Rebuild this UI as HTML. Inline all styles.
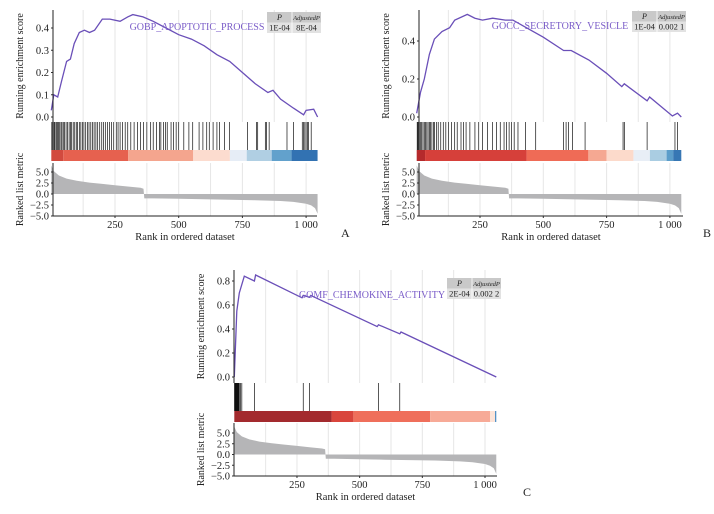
<!DOCTYPE html>
<html><head><meta charset="utf-8"><style>
body{margin:0;background:#fff;width:714px;height:509px;overflow:hidden}
svg{font-family:"Liberation Serif",serif}
</style></head><body>
<svg id="fig" width="714" height="509" viewBox="0 0 714 509" xmlns="http://www.w3.org/2000/svg"></svg>
<script>
// shared ranked list metric
const metricRanks=[0,10,30,60,100,150,200,250,300,350,362,365,400,500,600,700,800,900,950,1000,1020,1035,1045];
const metricValues=[6.5,5.2,4.2,3.5,3.0,2.6,2.3,2.0,1.7,1.4,1.2,-1.0,-1.0,-1.1,-1.2,-1.3,-1.4,-1.6,-1.8,-2.2,-2.6,-3.2,-4.5];
const metricTicks=[5.0,2.5,0.0,-2.5,-5.0];
const xTicks=[250,500,750,1000];
const xTickLabels=["250","500","750","1 000"];
// Panel A
const esRanksA=[0,10,25,40,60,75,90,110,130,150,170,200,230,270,300,320,360,400,450,500,550,600,650,700,750,800,850,870,900,950,990,1000,1030,1045];
const esValuesA=[0.03,0.1,0.09,0.16,0.25,0.26,0.33,0.38,0.39,0.38,0.39,0.44,0.44,0.43,0.45,0.46,0.45,0.43,0.40,0.37,0.35,0.32,0.28,0.25,0.2,0.15,0.11,0.12,0.08,0.04,0.01,0.03,0.035,0.0];
const hitsA=[2,5,8,12,15,20,24,28,33,38,42,47,52,58,63,70,75,80,86,92,98,103,110,116,122,128,135,142,148,155,162,168,175,182,190,198,205,212,220,228,236,245,255,262,270,280,290,300,312,325,338,350,362,375,390,400,413,425,430,440,448,455,470,480,490,500,520,540,555,580,595,610,620,635,650,660,680,700,770,805,810,840,845,855,925,950,985,990,995,1000,1005,1010,1020];
const segEndsA=[47,302,557,701,767,865,943,1045];
const segColorsA=["#d24a3e","#e6614f","#f4a58e","#fcdccf","#e6edf6","#b0cfe3","#62a1cc","#3272b2"];
const esTicksA=[0,0.1,0.2,0.3,0.4];
// Panel B
const esRanksB=[0,15,30,50,70,100,130,150,200,230,260,300,350,380,420,500,580,610,680,750,810,820,910,920,1010,1030,1045];
const esValuesB=[0.02,0.13,0.2,0.33,0.41,0.45,0.47,0.51,0.54,0.52,0.51,0.52,0.51,0.51,0.48,0.42,0.35,0.35,0.30,0.23,0.16,0.175,0.085,0.105,0.005,0.02,0];
const hitsB=[2,5,8,12,16,20,25,30,35,40,45,50,55,60,66,70,78,85,95,105,115,125,138,150,160,175,185,195,210,230,245,260,280,300,315,330,345,355,365,375,385,400,430,470,580,590,600,615,665,815,820,910,1020,1030];
const segEndsB=[33,434,678,750,856,921,987,1013,1045];
const segColorsB=["#b52a2c","#d6403a","#ef6b56","#f5a892","#fcdacb","#e8eef6","#aacde2","#5b9dca","#3777b4"];
const esTicksB=[0,0.2,0.4];
// Panel C
const esRanksC=[0,10,20,30,40,80,85,270,275,300,305,570,575,660,665,1045];
const esValuesC=[0,0.55,0.7,0.77,0.84,0.8,0.85,0.66,0.68,0.665,0.68,0.42,0.435,0.36,0.375,0];
const hitsC=[1,2,3,4,5,6,7,8,9,10,11,12,14,16,18,20,25,30,80,275,300,575,660];
const segEndsC=[388,475,781,1020,1040,1045];
const segColorsC=["#a32a2e","#d9453c","#ef6f5b","#f7aa97","#fde4d8","#4f8fc5"];
const esTicksC=[0,0.2,0.4,0.6,0.8];

const NS="http://www.w3.org/2000/svg";
const fig=document.getElementById('fig');
function mk(tag,attrs,parent,text){const e=document.createElementNS(NS,tag);for(const k in attrs)e.setAttribute(k,attrs[k]);if(text!==undefined)e.textContent=text;(parent||fig).appendChild(e);return e;}

function panel(cfg){
  const g=mk('g',{});
  
  
  const X=r=>cfg.x0+r*cfg.xs;
  const Y=v=>cfg.y0-v*cfg.ys;
  const M=v=>cfg.m0-v*cfg.ms;
  // grid
  for(let r=125;r<1045;r+=125){
    for(const [a,b] of [[cfg.top,cfg.esBot],[cfg.mTop,cfg.mBot]]){
      const l=mk('line',{x1:X(r),x2:X(r),y1:a,y2:b,stroke:'#e6e6e6','stroke-width':1},g);
      
      
    }
  }
  // ES ticks
  cfg.esTicks.forEach(v=>{
    const t=mk('text',{x:cfg.left-4,y:Y(v)+3.5,'text-anchor':'end','font-size':10.5,fill:'#222'},g,v.toFixed(1));
    
    
    mk('line',{x1:cfg.left-2,x2:cfg.left,y1:Y(v),y2:Y(v),stroke:'#333'},g);
  });
  // ES line
  let d='';cfg.esR.forEach((r,i)=>{d+=(i?'L':'M')+X(r).toFixed(1)+','+Y(cfg.esV[i]).toFixed(1);});
  const p=mk('path',{d:d,fill:'none',stroke:'#6a4fb8','stroke-width':1.3},g);
  
  
  // hits
  cfg.hits.forEach(r=>{
    const l=mk('line',{x1:X(r),x2:X(r),y1:cfg.esBot,y2:cfg.barTop,stroke:'#111','stroke-width':0.7},g);
    
    
  });
  // color bar
  let s=0;cfg.segE.forEach((e,i)=>{
    const rc=mk('rect',{x:X(s),y:cfg.barTop,width:Math.max(0,X(e)-X(s)),height:cfg.barH,fill:cfg.segC[i]},g);
    
    
    s=e;});
  // metric area
  let md='M'+X(metricRanks[0])+','+M(0);
  metricRanks.forEach((r,i)=>{md+='L'+X(r).toFixed(1)+','+M(metricValues[i]).toFixed(1);});
  md+='L'+X(metricRanks[metricRanks.length-1])+','+M(0)+'Z';
  const a=mk('path',{d:md,fill:'#b5b5b7'},g);
  
  
  metricTicks.forEach(v=>{
    const t=mk('text',{x:cfg.left-4,y:M(v)+3.5,'text-anchor':'end','font-size':10.5,fill:'#222'},g,(v<0?'\u2212'+(-v).toFixed(1):v.toFixed(1)));
    
    
    mk('line',{x1:cfg.left-2,x2:cfg.left,y1:M(v),y2:M(v),stroke:'#333'},g);
  });
  xTicks.forEach((r,i)=>{
    mk('line',{x1:X(r),x2:X(r),y1:cfg.mBot,y2:cfg.mBot+2,stroke:'#333'},g);
    const t=mk('text',{x:X(r),y:cfg.mBot+12,'text-anchor':'middle','font-size':10.5,fill:'#222'},g,xTickLabels[i]);
    
    
  });
  // axes
  mk('line',{x1:cfg.left,x2:cfg.left,y1:cfg.top,y2:cfg.esBot,stroke:'#222'},g);
  mk('line',{x1:cfg.left,x2:cfg.left,y1:cfg.mTop,y2:cfg.mBot,stroke:'#222'},g);
  mk('line',{x1:cfg.left,x2:cfg.right,y1:cfg.mBot,y2:cfg.mBot,stroke:'#222'},g);
  // titles
  let t=mk('text',{x:(cfg.left+cfg.right)/2,y:cfg.mBot+24,'text-anchor':'middle','font-size':10.5,fill:'#222'},g,'Rank in ordered dataset');
  
  const ey=(cfg.top+cfg.esBot)/2, lx=cfg.left-30;
  t=mk('text',{x:lx,y:ey,'text-anchor':'middle','font-size':10,fill:'#222',transform:`rotate(-90 ${lx} ${ey})`},g,'Running enrichment score');
  
  const my=(cfg.mTop+cfg.mBot)/2;
  t=mk('text',{x:lx,y:my,'text-anchor':'middle','font-size':10,fill:'#222',transform:`rotate(-90 ${lx} ${my})`},g,'Ranked list metric');
  
  t=mk('text',{x:cfg.gx,y:cfg.gy,'text-anchor':'middle','font-size':10,fill:'#7a5cc8'},g,cfg.name);
  
  // table
  const tx=cfg.tx,ty=cfg.ty,c1=25,c2=29,h=10.5;
  mk('rect',{x:tx,y:ty,width:c1+c2,height:h,fill:'#c9c9c9'},g);
  mk('rect',{x:tx,y:ty+h,width:c1+c2,height:h,fill:'#e2e2e2'},g);
  mk('line',{x1:tx+c1,x2:tx+c1,y1:ty,y2:ty+2*h,stroke:'#fff','stroke-width':0.8},g);
  t=mk('text',{x:tx+c1/2,y:ty+8,'text-anchor':'middle','font-size':8,'font-style':'italic',fill:'#222'},g,'P');
  
  t=mk('text',{x:tx+c1+c2/2,y:ty+8,'text-anchor':'middle','font-size':6.5,'font-style':'italic',fill:'#222'},g,'AdjustedP');
  
  t=mk('text',{x:tx+c1/2,y:ty+h+8,'text-anchor':'middle','font-size':8.5,fill:'#222'},g,cfg.p);
  
  t=mk('text',{x:tx+c1+c2/2,y:ty+h+8,'text-anchor':'middle','font-size':8.5,fill:'#222'},g,cfg.ap);
  
  t=mk('text',{x:cfg.lblx,y:cfg.lbly,'font-size':12,fill:'#222'},g,cfg.id);
  
}
panel({id:'A',left:53,right:317,x0:51.3,xs:0.2548,top:10,esBot:122,y0:117,ys:222.5,barTop:150,barH:11,mTop:163,mBot:216,m0:194,ms:4.4,
  esR:esRanksA,esV:esValuesA,hits:hitsA,segE:segEndsA,segC:segColorsA,esTicks:esTicksA,
  name:'GOBP_APOPTOTIC_PROCESS',gx:197,gy:30,tx:267,ty:12,p:'1E-04',ap:'8E-04',lblx:341,lbly:237});
panel({id:'B',left:419,right:683,x0:416.7,xs:0.2532,top:10,esBot:122,y0:117,ys:190,barTop:150,barH:11,mTop:163,mBot:216,m0:194,ms:4.4,
  esR:esRanksB,esV:esValuesB,hits:hitsB,segE:segEndsB,segC:segColorsB,esTicks:esTicksB,
  name:'GOCC_SECRETORY_VESICLE',gx:560,gy:29,tx:632,ty:11,p:'1E-04',ap:'0.002 1',lblx:703,lbly:237});
panel({id:'C',left:234,right:497,x0:234.3,xs:0.2507,top:270,esBot:383,y0:377,ys:120,barTop:411,barH:11,mTop:423,mBot:476,m0:454.5,ms:4.3,
  esR:esRanksC,esV:esValuesC,hits:hitsC,segE:segEndsC,segC:segColorsC,esTicks:esTicksC,
  name:'GOMF_CHEMOKINE_ACTIVITY',gx:372,gy:298,tx:447,ty:278,p:'2E-04',ap:'0.002 2',lblx:523,lbly:496});
</script>
</body></html>
